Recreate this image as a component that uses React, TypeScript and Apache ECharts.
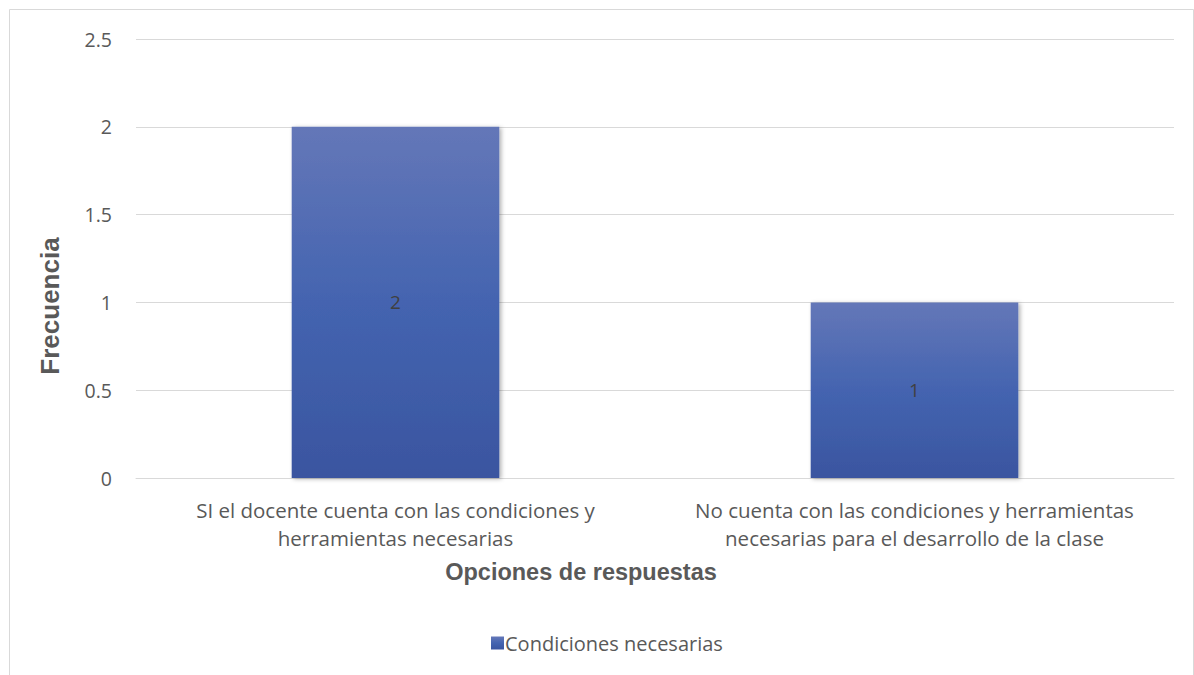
import React, { useEffect, useRef } from "react";
import * as echarts from "echarts";

const categories = [
  "SI el docente cuenta con las condiciones y\nherramientas necesarias",
  "No cuenta con las condiciones y herramientas\nnecesarias para el desarrollo de la clase",
];
const seriesName = "Condiciones necesarias";
const values = [2, 1];
const yTicks = { min: 0, max: 2.5, interval: 0.5 };
const xTitle = "Opciones de respuestas";
const yTitle = "Frecuencia";

const FONT = "'Open Sans', 'Noto Sans', sans-serif";
const GREY = "#595959";

export default function App() {
  const ref = useRef<HTMLDivElement>(null);
  useEffect(() => {
    document.body.style.margin = "0";
    if (!ref.current) return;
    const chart = echarts.init(ref.current, undefined, { renderer: "svg" });
    const barGradient = new echarts.graphic.LinearGradient(0, 0, 0, 1, [
      { offset: 0, color: "#6477b8" },
      { offset: 0.5, color: "#4464b0" },
      { offset: 1, color: "#3a55a0" },
    ]);
    chart.setOption({
      animation: false,
      backgroundColor: "#ffffff",
      textStyle: { fontFamily: FONT },
      grid: { left: 136, right: 20, top: 39, bottom: 197, containLabel: false },
      legend: {
        data: [seriesName],
        left: 486,
        top: 628,
        itemWidth: 13,
        itemHeight: 13,
        itemGap: 6,
        icon: "rect",
        textStyle: { color: GREY, fontSize: 20, fontFamily: FONT, padding: [0, 0, 0, -4] },
      },
      xAxis: {
        type: "category",
        data: categories,
        axisLine: { show: true, lineStyle: { color: "#d9d9d9" } },
        axisTick: { show: false },
        axisLabel: {
          color: GREY,
          fontSize: 20.5,
          fontFamily: FONT,
          lineHeight: 28,
          margin: 18,
          interval: 0,
          align: "center",
        },
      },
      yAxis: {
        type: "value",
        min: yTicks.min,
        max: yTicks.max,
        interval: yTicks.interval,
        axisLine: { show: false },
        axisTick: { show: false },
        splitLine: { lineStyle: { color: "#d9d9d9", width: 1 } },
        axisLabel: { color: GREY, fontSize: 19.5, fontFamily: FONT, margin: 24 },
      },
      series: [
        {
          name: seriesName,
          type: "bar",
          data: values,
          barWidth: "40%",
          itemStyle: {
            color: barGradient,
            shadowColor: "rgba(0,0,0,0.3)",
            shadowBlur: 4,
            shadowOffsetX: 2,
            shadowOffsetY: 1,
          },
          label: {
            show: true,
            position: "inside",
            color: "#404040",
            fontSize: 19,
            fontFamily: FONT,
          },
        },
      ],
      graphic: [
        {
          type: "rect",
          silent: true,
          shape: { x: 9.5, y: 9.5, width: 1184, height: 700 },
          style: { fill: "none", stroke: "#d9d9d9", lineWidth: 1 },
          z: -1,
        },
        {
          type: "text",
          x: 581,
          y: 572,
          style: {
            text: xTitle,
            fill: GREY,
            font: "bold 23.5px 'Liberation Sans', Arial, sans-serif",
            align: "center",
            verticalAlign: "middle",
          },
        },
        {
          type: "text",
          x: 50,
          y: 306,
          rotation: Math.PI / 2,
          style: {
            text: yTitle,
            fill: GREY,
            font: "bold 26px 'Liberation Sans', Arial, sans-serif",
            align: "center",
            verticalAlign: "middle",
          },
        },
      ],
    });
    return () => chart.dispose();
  }, []);
  return <div ref={ref} style={{ width: 1194, height: 675 }} />;
}
